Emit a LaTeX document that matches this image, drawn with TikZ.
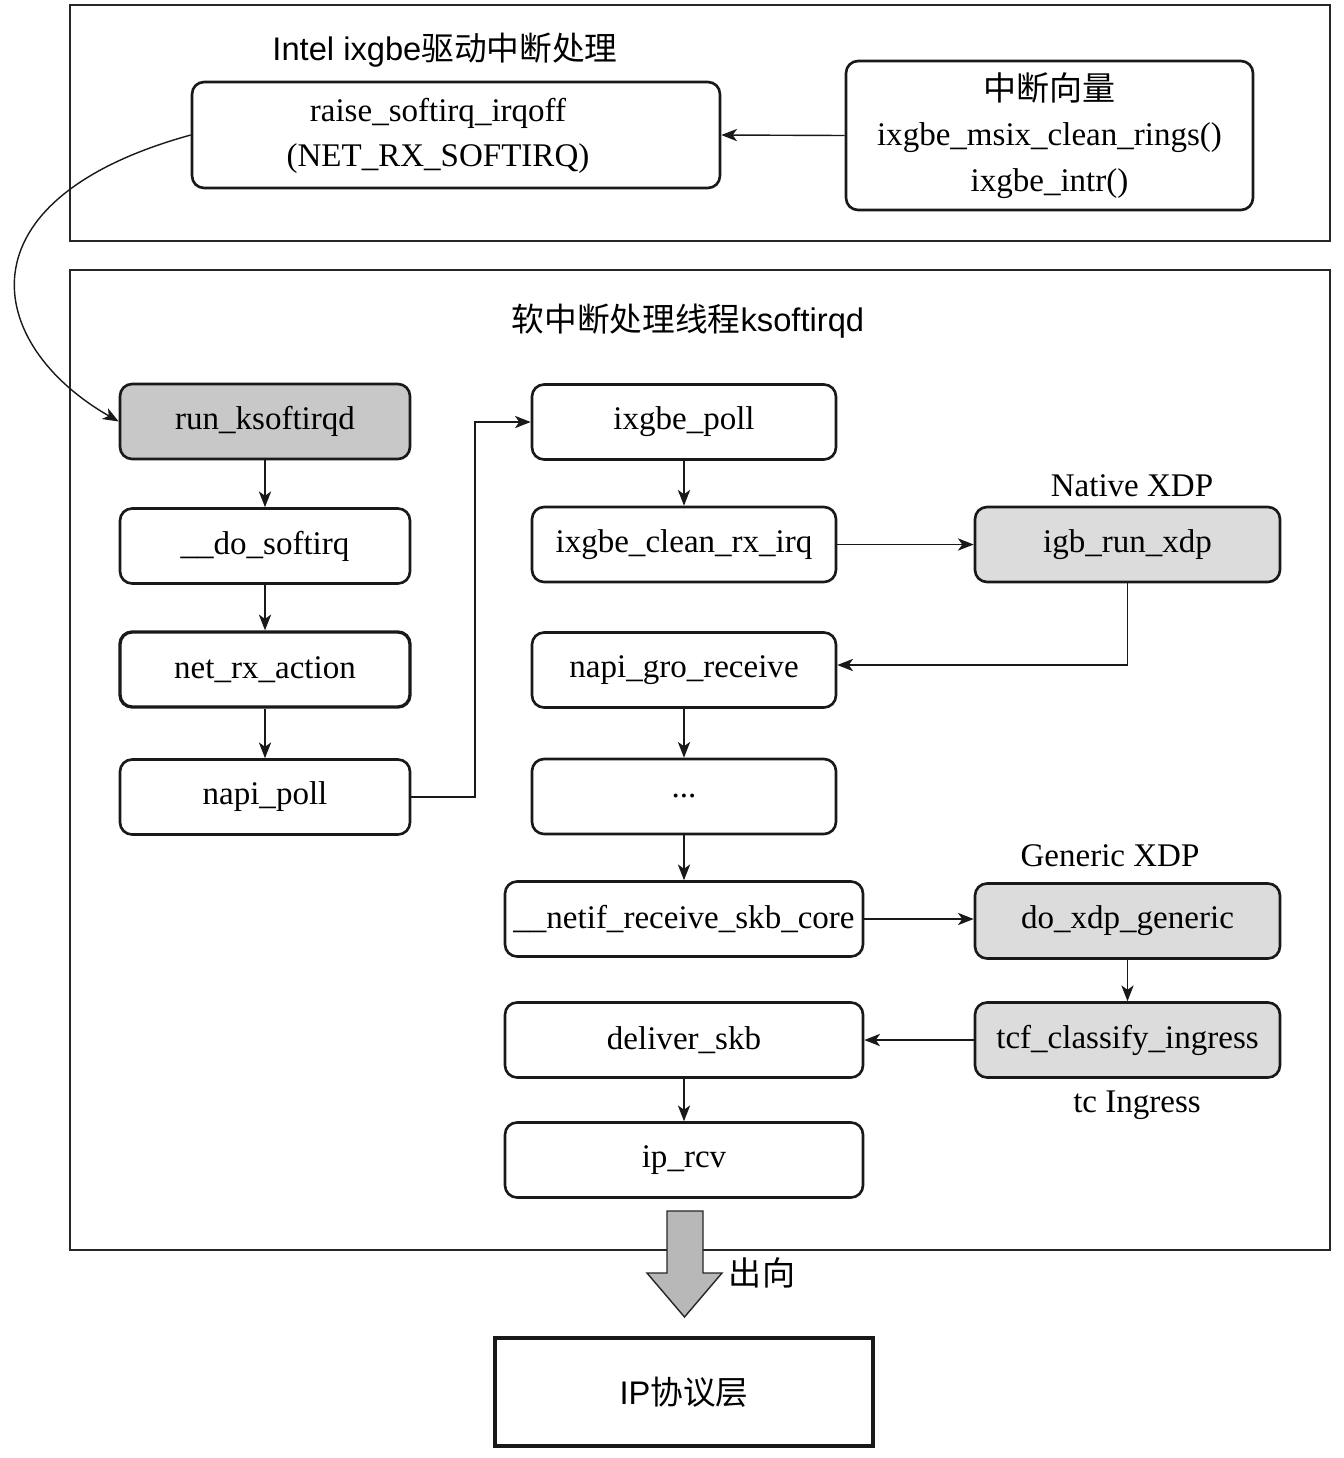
\documentclass[tikz,border=0pt]{standalone}
\usepackage{fontspec}
\setmainfont{Liberation Serif}
\setsansfont{Liberation Sans}
\newfontfamily\cjk{Noto Sans CJK SC}
\usetikzlibrary{arrows.meta}
\definecolor{gdark}{HTML}{C8C8C8}
\definecolor{glight}{HTML}{DCDCDC}
\definecolor{garrow}{HTML}{B8B8B8}
\begin{document}
\begin{tikzpicture}[x=0.02cm,y=-0.02cm,
  fn/.style={font=\fontsize{18.8pt}{26pt}\selectfont},
  fbox/.style={draw=black!90, line width=1.5pt, rounded corners=0.24cm, fn, inner sep=0pt, align=center, minimum width=5.8cm, minimum height=1.5cm},
  wide/.style={minimum width=6.08cm},
  wider/.style={minimum width=7.16cm},
  lbl/.style={fn, inner sep=0pt},
  ttl/.style={font=\sffamily\fontsize{18.6pt}{22pt}\selectfont, inner sep=0pt},
  frame/.style={draw=black!85, line width=0.8pt},
  arr/.style={draw=black!90, line width=0.8pt, -{Stealth[length=9pt,width=7pt,inset=2.5pt]}}
]
\useasboundingbox (0,0) rectangle (1343,1458);
% frames
\draw[frame] (70,5) rectangle (1330,241);
\draw[frame] (70,270) rectangle (1330,1250);
\node[ttl] (t1) at (445,50) {Intel ixgbe{\cjk 驱动中断处理}};
\node[ttl] (t2) at (688,321) {{\cjk 软中断处理线程}ksoftirqd};

% top nodes
\node[fbox, minimum width=10.56cm, minimum height=2.12cm] (raise) at (456,135) {\begin{tabular}{@{}c@{}}raise\_softirq\_irqoff\\(NET\_RX\_SOFTIRQ)\end{tabular}\hspace*{0.72cm}};
\node[fbox, minimum width=8.14cm, minimum height=2.98cm] (vec) at (1049.5,135.5) {{\cjk 中断向量}\\ixgbe\_msix\_clean\_rings()\\ixgbe\_intr()};

% left column
\node[fbox, fill=gdark] (run) at (265,421.5) {run\_ksoftirqd};
\node[fbox] (do) at (265,546) {\_\_do\_softirq};
\node[fbox, line width=1.9pt] (net) at (265,669.5) {net\_rx\_action};
\node[fbox] (np) at (265,797) {napi\_poll};

% middle column
\node[fbox, wide] (ip) at (684,422) {ixgbe\_poll};
\node[fbox, wide] (clean) at (684,544.5) {ixgbe\_clean\_rx\_irq};
\node[fbox, wide] (gro) at (684,670) {napi\_gro\_receive};
\node[fbox, wide] (dots) at (684,796.5) {...};
\node[fbox, wider] (netif) at (684,919) {\_\_netif\_receive\_skb\_core};
\node[fbox, wider] (deliver) at (684,1040) {deliver\_skb};
\node[fbox, wider] (iprcv) at (684,1160) {ip\_rcv};

% right column
\node[fbox, minimum width=6.1cm, fill=glight] (igb) at (1127.5,544.5) {igb\_run\_xdp};
\node[fbox, minimum width=6.1cm, fill=glight] (doxdp) at (1127.5,921) {do\_xdp\_generic};
\node[fbox, minimum width=6.1cm, fill=glight] (tcf) at (1127.5,1040) {tcf\_classify\_ingress};
\node[lbl] (lnat) at (1132,486) {Native XDP};
\node[lbl] (lgen) at (1110,856) {Generic XDP};
\node[lbl] (ltc) at (1137,1105) {tc Ingress};

% IP layer
\node[draw=black!90, line width=1.8pt, minimum width=7.56cm, minimum height=2.16cm, inner sep=0pt, font=\sffamily\fontsize{18.6pt}{22pt}\selectfont] (iplayer) at (684,1392) {IP{\cjk 协议层}};

% big arrow
\draw[draw=black!85, line width=0.8pt, fill=garrow] (667,1211) -- (703,1211) -- (703,1273) -- (722,1273) -- (684.5,1317) -- (647,1273) -- (667,1273) -- cycle;
\node[inner sep=0pt, font=\cjk\fontsize{18.8pt}{22pt}\selectfont] (out) at (762,1273) {出向};

% connectors
\draw[arr] (vec.west) -- (raise.east);
\draw[arr] (raise.west) .. controls (-45,200) and (-15,345) .. (run.west);
\draw[arr] (run) -- (do);
\draw[arr] (do) -- (net);
\draw[arr] (net) -- (np);
\draw[arr] (np.east) -- (475,797) |- (ip.west);
\draw[arr] (ip) -- (clean);
\draw[arr] (clean) -- (igb);
\draw[arr] (igb.south) |- ([yshift=0.1cm]gro.east);
\draw[arr] (gro) -- (dots);
\draw[arr] (dots) -- (netif);
\draw[arr] (netif) -- (doxdp.west |- netif);
\draw[arr] (doxdp) -- (tcf);
\draw[arr] (tcf) -- (deliver);
\draw[arr] (deliver) -- (iprcv);
\end{tikzpicture}
\end{document}
